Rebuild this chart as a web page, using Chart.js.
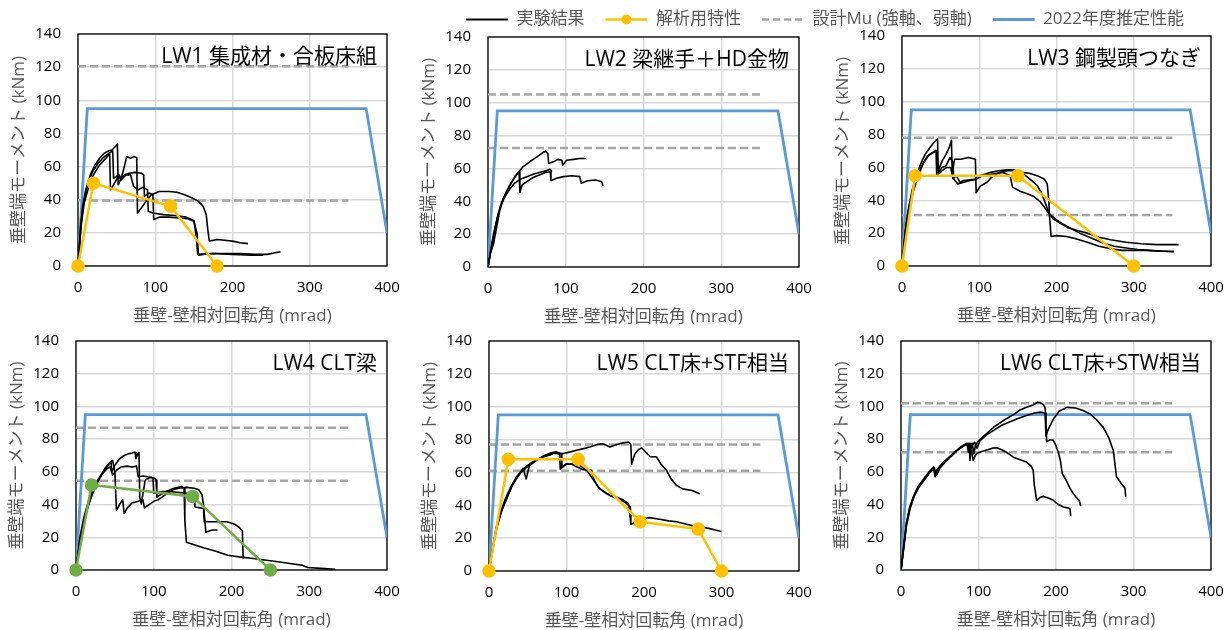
<!DOCTYPE html>
<html lang="ja">
<head>
<meta charset="utf-8">
<title>垂壁端モーメント - 垂壁-壁相対回転角</title>
<script src="https://cdn.jsdelivr.net/npm/chart.js@4.4.1/dist/chart.umd.min.js"></script>
<style>
  html, body { margin: 0; background: #fff; }
  #wrap { position: relative; width: 1232px; height: 630px; overflow: hidden; }
  #wrap canvas { position: absolute; }
</style>
</head>
<body>
<div id="wrap">
  <canvas id="lw1"></canvas>
  <canvas id="lw2"></canvas>
  <canvas id="lw3"></canvas>
  <canvas id="lw4"></canvas>
  <canvas id="lw5"></canvas>
  <canvas id="lw6"></canvas>
  <canvas id="legend"></canvas>
</div>
<script>
// ---- data ----
const xTicks = [0, 100, 200, 300, 400];
const yTicks = [0, 20, 40, 60, 80, 100, 120, 140];

const panelTitles = ['LW1 集成材・合板床組', 'LW2 梁継手＋HD金物', 'LW3 鋼製頭つなぎ',
                     'LW4 CLT梁', 'LW5 CLT床+STF相当', 'LW6 CLT床+STW相当'];
const legendLabels = ['実験結果', '解析用特性', '設計Mu (強軸、弱軸)', '2022年度推定性能'];

// 設計Mu (強軸、弱軸) per panel, drawn from 0 to designMuEnd
const designMu = [[120.5, 39.5], [105, 72.5], [78, 31], [87, 54.5], [77, 61], [102, 72]];
const designMuEnd = 350;

// 2022年度推定性能 (same in every panel)
const estX = [0, 12, 373, 400];
const estY = [0, 95, 95, 20];

// 解析用特性
const lw1Model = [[0, 0], [20, 50], [120, 36], [180, 0]];
const lw3Model = [[0, 0], [17, 55], [150, 55], [300, 0]];
const lw4Model = [[0, 0], [20, 52], [150, 45], [250, 0]];
const lw5Model = [[0, 0], [25, 68], [115, 68], [195, 30], [270, 25.5], [300, 0]];

// 実験結果
const lw1TestA = [[0,0],[3,22],[6,36],[10,46],[16,55],[22,61],[28,65],[34,68],[40,69.5],[44,70],[48,72],[51,73.5],[52,49],[56,53],[60,60],[63,66],[68,65],[72,66],[76,65.5],[77,32],[82,35],[88,39],[95,43],[105,45],[118,45],[128,44.5],[138,43],[148,41],[156,39],[162,36],[166,31],[168,22],[170,15],[180,16],[190,15.5],[200,15],[210,14],[220,13.5]];
const lw1TestB = [[0,0],[4,26],[8,40],[13,50],[19,57],[26,62],[33,65.5],[40,68],[45,69.5],[46,53],[50,54],[53,55],[56,53],[60,55],[66,56],[74,56.5],[82,56],[85,55],[86,42],[92,44],[97,43],[98,28],[106,29.5],[118,29.5],[130,29],[142,28.5],[150,27],[154,20],[156,6.5],[170,7.5],[190,7.5],[210,7.5],[230,7],[245,7],[255,8],[262,8.5]];
const lw1TestC = [[0,0],[4,24],[8,38],[14,48],[20,55],[28,61],[34,64],[38,66],[41,67.5],[42,46],[46,49],[52,54],[56,52],[62,55],[68,55],[72,48],[78,46],[84,47.5],[90,46],[91,33],[97,32],[110,31],[125,30.5],[140,29.5],[150,27.5],[153,18],[155,7],[175,7.5],[200,7],[225,6.5],[240,6.5]];

const lw2TestA = [[0,0],[3,8],[7,14],[11,24],[15,34],[20,42],[28,50],[36,56],[45,61],[55,64.5],[63,67],[70,69.5],[74,70.5],[77,69],[78,63],[84,64],[90,65.5],[95,65],[96,62],[101,65],[110,65.5],[118,66],[126,66]];
const lw2TestB = [[0,0],[4,12],[8,22],[13,32],[18,40],[24,46],[30,51],[35,55],[39,57.5],[40,58],[41,45.5],[44,50],[50,52],[58,54.5],[66,56],[74,57.5],[80,58],[81,52.5],[88,54],[97,55],[108,55.5],[118,55],[120,51],[128,52.5],[138,53],[146,52],[148,49.5]];
const lw2TestC = [[0,0],[4,11],[8,21],[12,30],[16,37],[22,43],[28,47.5],[34,51],[42,53.5],[50,55],[58,56.5],[66,57.5],[74,58.5],[80,59.5],[82,58]];

const lw3TestA = [[0,0],[4,20],[8,34],[13,46],[18,54],[24,62],[30,68],[36,72],[41,75],[46,77.5],[47,57],[52,60],[57,61],[62,66],[66,63],[67,53],[72,50],[80,51],[88,52],[95,52.5],[97,54.5],[105,55.5],[115,57],[125,58],[135,58.5],[145,58.5],[155,57],[165,56.5],[175,55],[184,53],[188,50],[190,40],[191,30],[193,18],[200,18.5],[213,18],[226,16.5],[240,14.5],[255,12],[270,10.5],[285,9.5],[300,9.5],[317,9.5],[335,9],[352,9]];
const lw3TestB = [[0,0],[5,22],[10,36],[15,46],[21,55],[27,62],[33,67],[39,69],[45,70],[46,57],[52,64],[57,68],[61,72],[64,76.5],[65,56],[68,65],[76,65],[86,66],[95,65],[96,44.5],[101,48.5],[110,51],[118,55],[127,57],[138,58],[150,58],[160,55],[168,52],[175,49],[181,44],[185,39],[190,32.5],[196,28.5],[205,26],[214,23.5],[228,21.5],[240,20],[255,17.5],[270,16],[290,14.5],[310,13.5],[330,13],[358,13]];
const lw3TestC = [[0,0],[5,24],[10,38],[16,49],[22,57],[28,63],[34,67],[40,69],[44,70.5],[45,55],[52,58],[58,60],[63,60],[66,53],[70,55],[75,51],[80,52],[88,52.5],[96,53],[105,55],[118,56],[130,57],[140,55],[143,48],[153,45.5],[162,44],[170,42.5],[178,39.5],[184,36],[190,32],[200,28],[214,24],[230,20],[245,17],[260,14],[275,12],[290,11],[305,10],[320,9.5],[340,9],[352,8.5]];

const lw4TestA = [[0,0],[4,14],[9,26],[14,36],[19,44],[25,51],[31,57],[37,62],[42,65],[45,66],[46,60],[50,64],[56,68],[62,70],[67,71],[72,71.5],[76,72],[77,68],[80,71.5],[81,72],[82,44.5],[84,40.5],[89,55],[95,56.5],[101,56],[103,55],[104,44.5],[110,46.5],[118,48.5],[126,50],[136,51],[139,50],[140,30],[142,17],[152,15.5],[165,13.5],[180,11.5],[195,9],[210,8],[228,7],[245,6],[260,5],[275,4],[290,3],[298,1.5],[315,1],[333,0.5]];
const lw4TestB = [[0,0],[5,18],[10,30],[16,40],[22,48],[28,54],[34,59],[40,63],[44,66],[47,67],[50,60],[52,36.5],[56,40],[60,43],[62,34.5],[66,38],[72,41],[80,42],[86,43],[88,38],[94,40],[100,42],[106,43],[112,45],[118,47],[125,49],[132,50],[142,50.5],[152,50],[158,49],[162,46],[164,40],[167,23],[172,24],[176,24.5],[182,24.5]];
const lw4TestC = [[0,0],[5,20],[10,32],[16,42],[22,50],[28,55],[34,59],[40,62],[44,63],[47,58],[52,61],[58,63],[66,63.5],[72,63],[78,63.5],[80,57],[86,57.5],[92,57],[99,56.5],[100,47],[106,47.5],[112,48],[120,48],[130,47.5],[140,47],[148,46.5],[152,43],[153,38.5],[160,38],[164,37.5],[165,29.5],[180,29.5],[194,29.5],[204,28],[210,26],[214,24],[215,7]];

const lw5TestA = [[0,0],[4,12],[9,26],[15,36],[22,45],[28,51],[35,57],[43,61.5],[52,65],[60,67.5],[70,69.5],[78,70.5],[83,71.5],[90,71.5],[96,71.5],[105,72.5],[113,73.5],[122,74.5],[130,75.5],[140,77],[147,77.5],[156,75.5],[165,77],[173,78],[180,78.5],[183,77],[184,65],[188,71],[192,73.5],[197,75],[203,72],[208,69.5],[216,69.5],[222,65],[229,61.3],[235,56],[242,52],[250,50],[262,49],[272,47]];
const lw5TestB = [[0,0],[4,11],[9,24],[15,35],[22,43],[29,51],[36,57],[44,62.5],[48,56],[52,64],[60,67],[70,70],[80,72],[87,72.5],[93,71.5],[94,63],[100,65],[107,65],[113,63.5],[121,61.7],[132,61.3],[136,55],[141,51],[148,48.5],[156,46],[164,45],[172,43.5],[180,41],[182,34],[183,28.5],[190,30],[199,31.8],[207,32.5],[220,31.5],[232,30.5],[242,30],[255,28.5],[268,27],[278,26.5],[285,25.8],[292,25],[300,24]];
const lw5TestC = [[0,0],[5,14],[10,27],[18,39],[25,47],[31,53],[38,58],[44,61.3],[52,64.5],[61,67.4],[70,69.5],[78.5,71.4],[86,72],[91,71],[92,62],[96,64],[100,65.3],[108,65],[117,64.3],[126,61.3],[134,56],[143,50],[152,47],[160,45],[168,44],[175,42],[180,40],[182,39],[182.5,33]];

const lw6TestA = [[0,0],[3,12],[7,28],[11,37],[16,44.6],[22,50],[29,54.8],[36,59],[42,62],[44,57],[46,61],[52,64.5],[59,67],[66,70],[72,73],[76,75],[81,76.5],[85,77.5],[87,72],[88,77],[92,77.5],[94,71],[96,76],[100,79],[106,81.5],[113,84.5],[120,87.5],[128,90],[136,92.5],[145,95],[153.5,97.8],[162,99.5],[171,101],[176,102.5],[179,102.4],[184,101],[186,99],[188,78.5],[192,79.5],[196,79.5],[199,77],[203,72],[206,66],[208,59],[213,55],[218,50],[222,47],[226,44.5],[230,42.5],[232,39]];
const lw6TestB = [[0,0],[3,13],[7,29],[11,38],[16,45],[22,51],[29,55.5],[36,60],[42,63],[45,58],[48,62],[55,66],[62,69],[70,72.5],[78,75],[84,77],[88,77.5],[89,67],[91,76],[95,78],[98,74.5],[102,79],[110,82.5],[120,85.5],[130,88.5],[140,90.5],[150,92.5],[162,94.5],[172,96],[180,96.5],[186,96],[187,82],[190,86],[196.6,92.3],[204,97],[214,99.4],[225,99],[235,97.5],[244,95.4],[252,92],[261,87.2],[268,81],[274,73],[276,65],[278,57],[284,53],[289,50],[290,44.6]];
const lw6TestC = [[0,0],[3,11],[7,27],[12,38],[17,45],[23,50.5],[30,55],[37,59.5],[43,62.5],[46,58],[50,62],[57,66],[64,69.5],[71,72.5],[78,75],[84,76.5],[90,77],[93,67],[97,71],[104,72.5],[112,73.5],[118,74.5],[123.5,74.7],[130,73.5],[136,72],[145,69],[153,67.5],[162,66],[168,63.5],[170.6,60.9],[172,52],[175,42.6],[180,44.5],[184,45],[190,44],[196.5,42.6],[203,40],[209.5,38.5],[215,38],[218,37.5],[219,33]];

// ---- styles / layout ----
const ORANGE = '#FFC000', GREEN = '#70AD47', BLUE = '#5B9BD5', GRAY = '#A5A5A5';
const FONT = "'Open Sans', 'Noto Sans CJK JP', sans-serif";
const AXIS_W = 78, XAXIS_H = 62, PAD_TOP = 30, PAD_RIGHT = 12;

// plot rectangles [left, top, right, bottom] in page pixels
const plotRects = [
  [78, 34, 387, 266], [488, 37, 799, 267], [902, 36, 1211, 266],
  [76, 341, 387, 570], [489, 341, 799, 571], [901, 341, 1211, 570]
];

const panels = [
  { id: 'lw1', tests: [lw1TestA, lw1TestB, lw1TestC], model: lw1Model, modelColor: ORANGE },
  { id: 'lw2', tests: [lw2TestA, lw2TestB, lw2TestC], model: null },
  { id: 'lw3', tests: [lw3TestA, lw3TestB, lw3TestC], model: lw3Model, modelColor: ORANGE },
  { id: 'lw4', tests: [lw4TestA, lw4TestB, lw4TestC], model: lw4Model, modelColor: GREEN },
  { id: 'lw5', tests: [lw5TestA, lw5TestB, lw5TestC], model: lw5Model, modelColor: ORANGE },
  { id: 'lw6', tests: [lw6TestA, lw6TestB, lw6TestC], model: null }
];

const toXY = pts => pts.map(([x, y]) => ({ x, y }));

// frame around the plot area + panel label in the upper right corner
const panelDecor = {
  id: 'panelDecor',
  beforeDatasetsDraw(chart, args, opts) {
    const { ctx, chartArea: a } = chart;
    ctx.save();
    ctx.strokeStyle = '#000';
    ctx.lineWidth = 1.3;
    ctx.strokeRect(a.left, a.top, a.right - a.left, a.bottom - a.top);
    ctx.restore();
  },
  afterDraw(chart, args, opts) {
    const { ctx, chartArea: a } = chart;
    ctx.save();
    ctx.font = '21px ' + FONT;
    ctx.fillStyle = '#000';
    ctx.textAlign = 'right';
    ctx.textBaseline = 'middle';
    ctx.fillText(opts.text, a.right - 10, a.top + 23);
    ctx.restore();
  }
};

function buildDatasets(p, i) {
  const ds = [];
  p.tests.forEach(t => ds.push({
    label: legendLabels[0], data: toXY(t), showLine: true,
    borderColor: '#000', borderWidth: 1.6, borderJoinStyle: 'round',
    pointRadius: 0, order: 2
  }));
  if (p.model) ds.push({
    label: legendLabels[1], data: toXY(p.model), showLine: true,
    borderColor: p.modelColor, backgroundColor: p.modelColor, borderWidth: 2.5,
    pointRadius: 5.5, pointBackgroundColor: p.modelColor, pointBorderColor: p.modelColor,
    order: 1, clip: false
  });
  designMu[i].forEach(v => ds.push({
    label: legendLabels[2], data: [{ x: 0, y: v }, { x: designMuEnd, y: v }], showLine: true,
    borderColor: GRAY, borderWidth: 2.5, borderDash: [8, 4], pointRadius: 0, order: 4
  }));
  ds.push({
    label: legendLabels[3], data: estX.map((x, k) => ({ x, y: estY[k] })), showLine: true,
    borderColor: BLUE, borderWidth: 2.8, pointRadius: 0, order: 3
  });
  return ds;
}

// keep the plot area exactly where the layout says, whatever the tick label overflow
function noScalePadding(s) {
  s.paddingLeft = 0; s.paddingRight = 0; s.paddingTop = 0; s.paddingBottom = 0;
}

panels.forEach((p, i) => {
  const [L, T, R, B] = plotRects[i];
  const cv = document.getElementById(p.id);
  cv.width = (R - L) + AXIS_W + PAD_RIGHT;
  cv.height = (B - T) + PAD_TOP + XAXIS_H;
  cv.style.left = (L - AXIS_W) + 'px';
  cv.style.top = (T - PAD_TOP) + 'px';

  new Chart(cv, {
    type: 'scatter',
    data: { datasets: buildDatasets(p, i) },
    plugins: [panelDecor],
    options: {
      responsive: false,
      animation: false,
      events: [],
      layout: { padding: { top: PAD_TOP, right: PAD_RIGHT, left: 0, bottom: 0 } },
      plugins: {
        legend: { display: false },
        tooltip: { enabled: false },
        panelDecor: { text: panelTitles[i] }
      },
      scales: {
        x: {
          type: 'linear', min: 0, max: 400,
          afterBuildTicks: s => { s.ticks = xTicks.map(v => ({ value: v })); },
          afterFit: s => { s.height = XAXIS_H; noScalePadding(s); },
          grid: { color: '#d9d9d9', lineWidth: 1.5, drawTicks: false },
          border: { display: false },
          ticks: { padding: 13, color: '#000', font: { family: FONT, size: 15 } },
          title: {
            display: true, text: '垂壁-壁相対回転角 (mrad)', color: '#595959',
            font: { family: FONT, size: 17 }, padding: { top: 0, bottom: 2 }
          }
        },
        y: {
          type: 'linear', min: 0, max: 140,
          afterBuildTicks: s => { s.ticks = yTicks.map(v => ({ value: v })); },
          afterFit: s => { s.width = AXIS_W; noScalePadding(s); },
          grid: { color: '#d9d9d9', lineWidth: 1.5, drawTicks: false },
          border: { display: false },
          ticks: { padding: 17, color: '#000', font: { family: FONT, size: 15 } },
          title: {
            display: true, text: '垂壁端モーメント (kNm)', color: '#595959',
            font: { family: FONT, size: 17 }, padding: { top: 9, bottom: 0 }
          }
        }
      }
    }
  });
});

// ---- shared legend ----
const LEGEND_LINE_W = 42;
const legendMarker = {
  id: 'legendMarker',
  afterDraw(chart) {
    const box = chart.legend.legendHitBoxes[1];
    if (!box) return;
    const { ctx } = chart;
    ctx.save();
    ctx.fillStyle = ORANGE;
    ctx.beginPath();
    ctx.arc(box.left + LEGEND_LINE_W / 2, box.top + box.height / 2, 5, 0, Math.PI * 2);
    ctx.fill();
    ctx.restore();
  }
};

const lg = document.getElementById('legend');
lg.width = 770; lg.height = 120;
lg.style.left = '440px'; lg.style.top = '-10px';

new Chart(lg, {
  type: 'line',
  data: {
    datasets: [
      { label: legendLabels[0], data: [], borderColor: '#000', borderWidth: 1.8 },
      { label: legendLabels[1], data: [], borderColor: ORANGE, borderWidth: 2.5 },
      { label: legendLabels[2], data: [], borderColor: GRAY, borderWidth: 2.5, borderDash: [7, 4] },
      { label: legendLabels[3], data: [], borderColor: BLUE, borderWidth: 3 }
    ]
  },
  plugins: [legendMarker],
  options: {
    responsive: false,
    animation: false,
    events: [],
    scales: { x: { display: false }, y: { display: false } },
    plugins: {
      tooltip: { enabled: false },
      legend: {
        position: 'top',
        labels: {
          usePointStyle: true,
          pointStyleWidth: LEGEND_LINE_W,
          boxHeight: 17,
          padding: 21,
          color: '#595959',
          font: { family: FONT, size: 17 },
          generateLabels: chart => chart.data.datasets.map((d, k) => ({
            text: d.label, datasetIndex: k, hidden: false,
            fillStyle: d.borderColor, strokeStyle: d.borderColor,
            lineWidth: d.borderWidth, lineDash: d.borderDash || [],
            pointStyle: 'line', fontColor: '#595959'
          }))
        }
      }
    }
  }
});
</script>
</body>
</html>
